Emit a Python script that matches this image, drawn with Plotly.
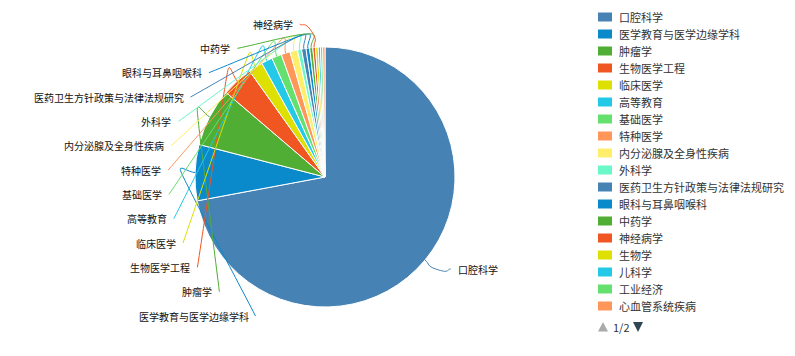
import math
import plotly.graph_objects as go

# ---- data -------------------------------------------------------------
categories = [
    "口腔科学", "医学教育与医学边缘学科", "肿瘤学", "生物医学工程", "临床医学",
    "高等教育", "基础医学", "特种医学", "内分泌腺及全身性疾病", "外科学",
    "医药卫生方针政策与法律法规研究", "眼科与耳鼻咽喉科", "中药学", "神经病学",
    "生物学", "儿科学", "工业经济", "心血管系统疾病",
]
counts = [1295, 125, 130, 70, 32, 25, 22, 20, 17, 9, 10, 8, 7, 6, 6, 5, 5, 5]
palette = ["#4682B4", "#0A89CB", "#4FAE33", "#EF5621", "#DDE000",
           "#25C9E8", "#64E06E", "#FF965A", "#FFEE6A", "#6AF8C8"]
labeled_count = 14          # slices that carry an outside label
pager_text = "1/2"

# ---- layout constants (pixels) ---------------------------------------
W, H = 795, 356
CX, CY, R = 325, 177, 130
L1, L2 = 14, 15             # label line segment lengths
RA, RB = 157, 155           # ellipse that left-side labels sit on
GAP = 24.33                 # vertical spacing of stacked labels
Y_MAX = 316
FONT = "Noto Sans CJK SC, Noto Sans, sans-serif"


def px(x):
    return x / W


def py(y):
    return 1 - y / H


colors = [palette[i % len(palette)] for i in range(len(categories))]
total = sum(counts)

fig = go.Figure(go.Pie(
    labels=categories, values=counts, sort=False, direction="clockwise",
    rotation=0, textinfo="none", showlegend=False,
    marker=dict(colors=colors, line=dict(color="white", width=1)),
    domain=dict(x=[px(CX - R), px(CX + R)], y=[py(CY + R), py(CY - R)]),
    hoverinfo="label+value+percent",
))

# mid angle of every slice, clockwise from 12 o'clock
mids = []
acc = 0
for v in counts:
    mids.append((acc + v / 2) / total * 2 * math.pi)
    acc += v


def polar(r, a):
    return (CX + r * math.sin(a), CY - r * math.cos(a))


items = []
for i in range(labeled_count):
    a = mids[i]
    p0 = polar(R, a)
    p1 = polar(R + L1, a)
    items.append(dict(i=i, p0=p0, p1=p1, left=p1[0] < CX))

# stack left-side labels so they don't overlap
left = sorted([it for it in items if it["left"]], key=lambda it: it["p1"][1])
ys = [it["p1"][1] for it in left]
for k in range(1, len(ys)):
    ys[k] = max(ys[k], ys[k - 1] + GAP)
if ys and ys[-1] > Y_MAX:
    ys[-1] = Y_MAX
    for k in range(len(ys) - 2, -1, -1):
        ys[k] = min(ys[k], ys[k + 1] - GAP)
for it, y in zip(left, ys):
    dy = y - CY
    dx = RA * math.sqrt(max(0.0, 1 - dy * dy / (RB * RB)))
    it["p2"] = (CX - dx, y)
for it in items:
    if not it["left"]:
        it["p2"] = (it["p1"][0] + L2, it["p1"][1])


def leader_path(p0, p1, p2):
    d01 = math.dist(p0, p1)
    tx, ty = p2[0] - p0[0], p2[1] - p0[1]
    n = math.hypot(tx, ty) or 1
    tx, ty = tx / n, ty / n
    k = 0.7 * d01
    c1 = (p0[0] + (p1[0] - p0[0]) * 0.5, p0[1] + (p1[1] - p0[1]) * 0.5)
    c2 = (p1[0] - tx * k, p1[1] - ty * k)
    c3 = (p1[0] + tx * k * 1.6, p1[1] + ty * k * 1.6)
    c4 = (p2[0] + (p1[0] - p2[0]) * 0.3, p2[1] + (p1[1] - p2[1]) * 0.3)
    pts = [p0, c1, c2, p1, c3, c4, p2]
    q = [f"{px(x):.5f},{py(y):.5f}" for x, y in pts]
    return f"M{q[0]} C{q[1]} {q[2]} {q[3]} C{q[4]} {q[5]} {q[6]}"


shapes = []
annotations = []
for it in items:
    c = colors[it["i"]]
    shapes.append(dict(type="path", xref="paper", yref="paper", layer="above",
                       path=leader_path(it["p0"], it["p1"], it["p2"]),
                       line=dict(color=c, width=1)))
    x2, y2 = it["p2"]
    annotations.append(dict(
        xref="paper", yref="paper", showarrow=False,
        x=px(x2 - 5 if it["left"] else x2 + 5), y=py(y2),
        xanchor="right" if it["left"] else "left", yanchor="middle",
        text=categories[it["i"]], font=dict(family=FONT, size=10, color="#111"),
    ))

# legend (first page)
LX, LY0, LSTEP = 598, 17, 17
for i, name in enumerate(categories):
    y = LY0 + i * LSTEP
    shapes.append(dict(type="rect", xref="paper", yref="paper", layer="above",
                       x0=px(LX), x1=px(LX + 14), y0=py(y - 4.5), y1=py(y + 4.5),
                       fillcolor=colors[i], line=dict(width=0)))
    annotations.append(dict(
        xref="paper", yref="paper", showarrow=False, x=px(LX + 19), y=py(y),
        xanchor="left", yanchor="middle", text=name,
        font=dict(family=FONT, size=11, color="#333"),
    ))

# pager
PY = 327
up = [(LX, PY + 4.5), (LX + 5, PY - 5), (LX + 10, PY + 4.5)]
down = [(LX + 35, PY - 5), (LX + 45, PY - 5), (LX + 40, PY + 5)]
for tri, col in ((up, "#AAAAAA"), (down, "#2F4554")):
    path = "M" + " L".join(f"{px(x):.5f},{py(y):.5f}" for x, y in tri) + " Z"
    shapes.append(dict(type="path", xref="paper", yref="paper", layer="above",
                       path=path, fillcolor=col, line=dict(width=0)))
annotations.append(dict(
    xref="paper", yref="paper", showarrow=False, x=px(LX + 13), y=py(PY),
    xanchor="left", yanchor="middle", text=pager_text,
    font=dict(family=FONT, size=11, color="#333"),
))

fig.update_layout(
    width=W, height=H, autosize=False,
    margin=dict(l=0, r=0, t=0, b=0, pad=0),
    paper_bgcolor="white", plot_bgcolor="white",
    showlegend=False, shapes=shapes, annotations=annotations,
    font=dict(family=FONT),
)

fig.write_html("out.html")
